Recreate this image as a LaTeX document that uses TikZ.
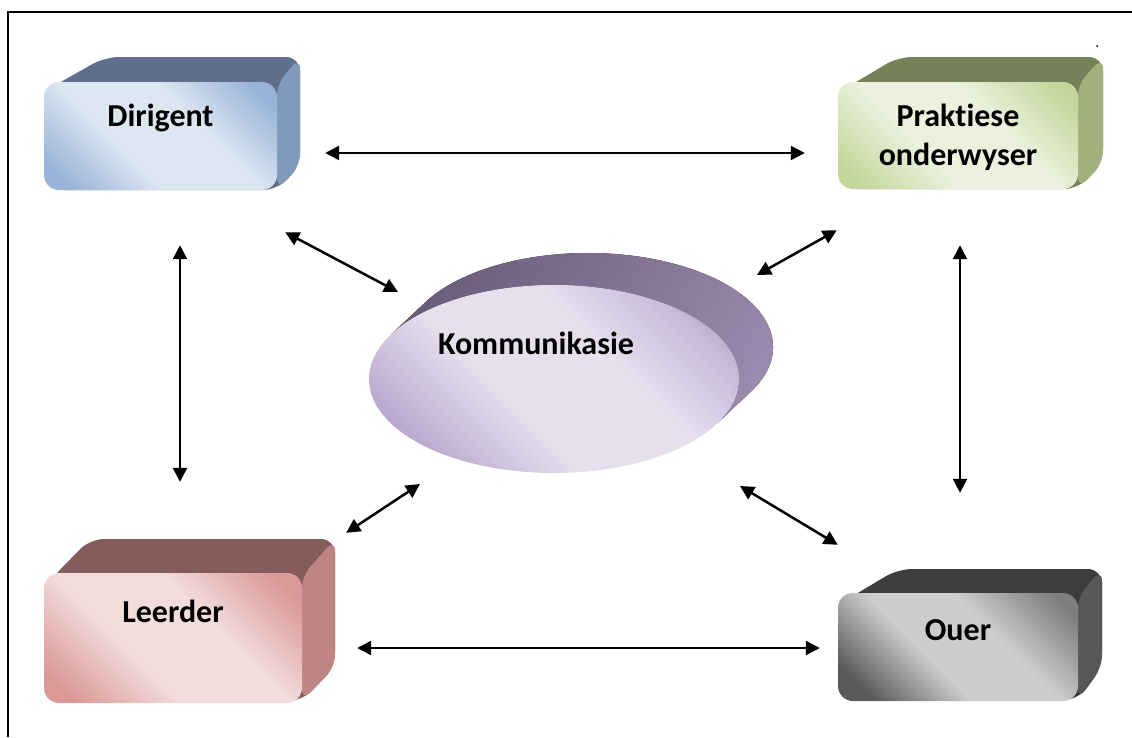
\documentclass[tikz,border=0pt]{standalone}
\usepackage{fontspec}
\setmainfont[Ligatures=NoCommon]{Carlito}
\usetikzlibrary{arrows.meta,shapes.geometric}

\definecolor{dirtop}{HTML}{5F6F8B}
\definecolor{dirside}{HTML}{8199BB}
\definecolor{dirlight}{HTML}{DDE7F2}
\definecolor{dirdark}{HTML}{98B3D8}
\definecolor{pratop}{HTML}{76815A}
\definecolor{praside}{HTML}{A3B07D}
\definecolor{pralight}{HTML}{EBF1DD}
\definecolor{pradark}{HTML}{C3D79C}
\definecolor{leetop}{HTML}{845C5B}
\definecolor{leeside}{HTML}{BF8583}
\definecolor{leelight}{HTML}{F2DCDC}
\definecolor{leedark}{HTML}{DA9896}
\definecolor{ouetop}{HTML}{3D3D3D}
\definecolor{oueside}{HTML}{575757}
\definecolor{ouelight}{HTML}{CDCDCD}
\definecolor{ouedark}{HTML}{5A5A5A}
\definecolor{ouemid}{HTML}{7E7E7E}
\definecolor{komback}{HTML}{6B5D7C}
\definecolor{kombackl}{HTML}{9A8AAD}
\definecolor{komlight}{HTML}{E6E0EE}
\definecolor{komdark}{HTML}{B5A2CB}

\pgfdeclarehorizontalshading{dirshade}{100bp}{color(0bp)=(dirdark); color(20bp)=(dirdark); color(40bp)=(dirlight); color(60bp)=(dirlight); color(80bp)=(dirdark); color(100bp)=(dirdark)}
\pgfdeclarehorizontalshading{prashade}{100bp}{color(0bp)=(pradark); color(20bp)=(pradark); color(40bp)=(pralight); color(60bp)=(pralight); color(80bp)=(pradark); color(100bp)=(pradark)}
\pgfdeclarehorizontalshading{leeshade}{100bp}{color(0bp)=(leedark); color(20bp)=(leedark); color(40bp)=(leelight); color(60bp)=(leelight); color(80bp)=(leedark); color(100bp)=(leedark)}
\pgfdeclarehorizontalshading{oueshade}{100bp}{color(0bp)=(ouedark); color(22bp)=(ouedark); color(42bp)=(ouelight); color(60bp)=(ouelight); color(80bp)=(ouemid); color(100bp)=(ouemid)}
\pgfdeclarehorizontalshading{komshade}{100bp}{color(0bp)=(komdark); color(22bp)=(komdark); color(42bp)=(komlight); color(60bp)=(komlight); color(82bp)=(komdark); color(100bp)=(komdark)}

\tikzset{
  face/.style={rectangle, rounded corners=15pt, inner sep=0pt, shading angle=45},
  lbl/.style={font=\fontsize{32}{39}\selectfont\bfseries, align=center, inner sep=0pt},
  link/.style={line width=2.5pt, {Triangle[length=14pt,width=14pt]}-{Triangle[length=14pt,width=14pt]}},
}

\begin{document}
\begin{tikzpicture}[x=1pt,y=-1pt]
\useasboundingbox (0,0) rectangle (1132,737);
\draw[line width=1.6pt] (8,737) -- (8,12) -- (1132,12);
\fill (1097,46) circle (1pt);

% Dirigent
\fill[dirtop, rounded corners=14pt] (50,88) -- (105,57) -- (300,57) -- (300,166) -- (277,190) -- (50,190) -- cycle;
\fill[dirside, rounded corners=12pt] (277,84) -- (300,57) -- (300,166) -- (277,190) -- cycle;
\node[face, minimum width=233pt, minimum height=108pt, shading=dirshade, shading angle=45] (dir) at (160.5,136) {};
\node[lbl] (dirtxt) at ([yshift=18pt]dir.center) {Dirigent};

% Praktiese onderwyser
\fill[pratop, rounded corners=14pt] (846,88) -- (898,57) -- (1103,57) -- (1103,163) -- (1078,189) -- (846,189) -- cycle;
\fill[praside, rounded corners=12pt] (1078,84) -- (1103,57) -- (1103,163) -- (1078,189) -- cycle;
\node[face, minimum width=240pt, minimum height=107pt, shading=prashade, shading angle=45] (pra) at (958,135.5) {};
\node[lbl] (pratxt) at ([yshift=-2pt]pra.center) {Praktiese\\onderwyser};

% Leerder
\fill[leetop, rounded corners=14pt] (50,580) -- (90,539) -- (335,539) -- (335,667) -- (302,701) -- (50,701) -- cycle;
\fill[leeside, rounded corners=12pt] (302,576) -- (335,539) -- (335,667) -- (302,701) -- cycle;
\node[face, minimum width=258pt, minimum height=130pt, shading=leeshade, shading angle=45] (lee) at (173,638) {};
\node[lbl] (leetxt) at ([yshift=27pt]lee.center) {Leerder};

% Ouer
\fill[ouetop, rounded corners=14pt] (846,600) -- (898,569) -- (1102,569) -- (1102,667) -- (1078,700) -- (846,700) -- cycle;
\fill[oueside, rounded corners=12pt] (1078,596) -- (1102,569) -- (1102,667) -- (1078,700) -- cycle;
\node[face, minimum width=240pt, minimum height=108pt, shading=oueshade, shading angle=45] (oue) at (958,647) {};
\node[lbl] (ouetxt) at ([yshift=17pt]oue.center) {Ouer};

% Kommunikasie
\fill[left color=komback, right color=kombackl, shading angle=60] (425.3,302.3) arc[start angle=151.6, end angle=-28.4, x radius=185pt, y radius=94pt] -- (716.7,423.7) arc[start angle=-28.4, end angle=151.6, x radius=185pt, y radius=94pt] -- cycle;
\node[ellipse, inner sep=0pt, minimum width=370pt, minimum height=188pt, shading=komshade, shading angle=45] (kom) at (554,379) {};
\node[lbl] (komtxt) at ([xshift=-18pt,yshift=36pt]kom.center) {Kommunikasie};

% pyle
\draw[link] ([xshift=48pt,yshift=-17pt]dir.east) -- ([xshift=-33pt,yshift=-17.5pt]pra.west);
\draw[link] ([xshift=55pt,yshift=-10pt]lee.east) -- ([xshift=-18pt,yshift=-1pt]oue.west);
\draw[link] ([xshift=19.5pt,yshift=-55pt]dir.south) -- ([xshift=7pt,yshift=91pt]lee.north);
\draw[link] ([xshift=2pt,yshift=-56pt]pra.south) -- ([xshift=2pt,yshift=100pt]oue.north);
\draw[link] ([xshift=8pt,yshift=-42pt]dir.south east) -- ([xshift=-156pt,yshift=87pt]kom.center);
\draw[link] ([xshift=-1pt,yshift=-41pt]pra.south west) -- ([xshift=203pt,yshift=104pt]kom.center);
\draw[link] ([xshift=44pt,yshift=40pt]lee.north east) -- ([xshift=-134pt,yshift=-105pt]kom.center);
\draw[link] ([yshift=48pt]oue.north west) -- ([xshift=186pt,yshift=-107pt]kom.center);
\end{tikzpicture}
\end{document}
